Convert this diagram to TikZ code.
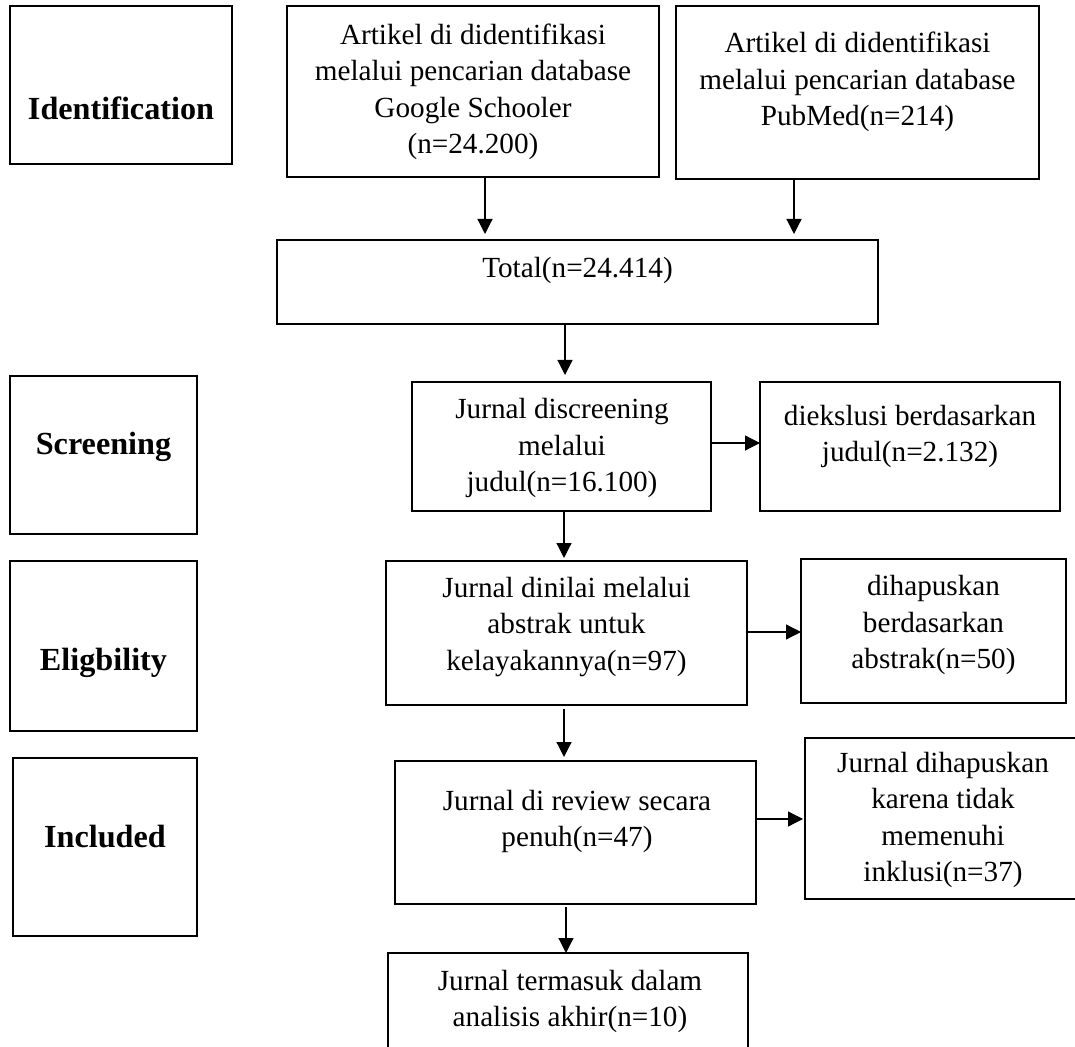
\documentclass[tikz,border=0pt]{standalone}
\usepackage{fontspec}
\setmainfont{Liberation Serif}
\usetikzlibrary{arrows.meta}
\newcommand{\mybox}[5]{\node[box, minimum width={(#4-#2)*0.5pt}, minimum height={(#5-#3)*0.5pt}] (#1) at ({(#2+#4)/2},{(#3+#5)/2}) {};}
\begin{document}
\begin{tikzpicture}[x=0.5pt,y=-0.5pt,
  box/.style={draw=black, line width=1pt, rectangle, inner sep=0pt, outer sep=0pt},
  txt/.style={inner sep=0pt, align=center, font=\fontsize{14.6}{18.25}\selectfont},
  lbl/.style={inner sep=0pt, align=center, font=\fontsize{16.1}{19}\selectfont\bfseries},
  arr/.style={line width=0.6pt, -{Triangle[length=7.5pt,width=7.5pt]}}]
\fill[white] (0,0) rectangle (1075,1047);
\useasboundingbox (0,0) rectangle (1075,1047);
% boxes
\mybox{ident}{10}{6}{232}{164}
\mybox{google}{287}{6}{659}{177}
\mybox{pubmed}{676}{6}{1039}{179}
\mybox{total}{277}{240}{878}{324}
\mybox{screenlbl}{10}{376}{197}{534}
\mybox{screen}{412}{382}{711}{511}
\mybox{diek}{760}{382}{1060}{511}
\mybox{eliglbl}{10}{561}{197}{731}
\mybox{dinilai}{386}{561}{747}{705}
\mybox{dihapus}{801}{559}{1066}{703}
\mybox{incllbl}{13}{758}{197}{936}
\mybox{review}{395}{761}{756}{904}
\mybox{excl}{805}{738}{1081}{899}
\mybox{akhir}{388}{953}{748}{1062}
% texts
\node[lbl] (ident-t) at (121,108) {Identification};
\node[lbl] (screenlbl-t) at (103.5,447) {Screening};
\node[lbl] (eliglbl-t) at (103.5,663) {Eligbility};
\node[lbl] (incllbl-t) at (105,837) {Included};
\node[txt] (google-t) at (473,92) {Artikel di didentifikasi\\melalui pencarian database\\Google Schooler\\(n=24.200)};
\node[txt] (pubmed-t) at (857.5,82) {Artikel di didentifikasi\\melalui pencarian database\\PubMed(n=214)};
\node[txt] (total-t) at (577.5,270) {Total(n=24.414)};
\node[txt] (screen-t) at (562,448) {Jurnal discreening\\melalui\\judul(n=16.100)};
\node[txt] (diek-t) at (910,436.5) {diekslusi berdasarkan\\judul(n=2.132)};
\node[txt] (dinilai-t) at (566.5,627) {Jurnal dinilai melalui\\abstrak untuk\\kelayakannya(n=97)};
\node[txt] (dihapus-t) at (933.5,625) {dihapuskan\\berdasarkan\\abstrak(n=50)};
\node[txt] (review-t) at (577,821.5) {Jurnal di review secara\\penuh(n=47)};
\node[txt] (excl-t) at (943,820) {Jurnal dihapuskan\\karena tidak\\memenuhi\\inklusi(n=37)};
\node[txt] (akhir-t) at (570,1001.5) {Jurnal termasuk dalam\\analisis akhir(n=10)};
% arrow columns and rows
\coordinate (cg) at (485,0);
\coordinate (cp) at (794,0);
\coordinate (cm) at (565,0);
\coordinate (cn) at (564,0);
\coordinate (co) at (566,0);
\coordinate (r1) at (0,443);
\coordinate (r2) at (0,632);
\coordinate (r3) at (0,819);
% connectors
\draw[arr, shorten >=3pt] (google.south -| cg) -- (total.north -| cg);
\draw[arr, shorten >=3pt] (pubmed.south -| cp) -- (total.north -| cp);
\draw[arr, shorten >=3.5pt] (total.south -| cm) -- (screen.north -| cm);
\draw[arr, shorten >=1.5pt] (screen.south -| cn) -- (dinilai.north -| cn);
\draw[arr, shorten <=2pt, shorten >=2pt] (dinilai.south -| cn) -- (review.north -| cn);
\draw[arr, shorten <=1.5pt] (review.south -| co) -- (akhir.north -| co);
\draw[arr] (screen.east |- r1) -- (diek.west |- r1);
\draw[arr] (dinilai.east |- r2) -- (dihapus.west |- r2);
\draw[arr, shorten >=1pt] (review.east |- r3) -- (excl.west |- r3);
\end{tikzpicture}
\end{document}
